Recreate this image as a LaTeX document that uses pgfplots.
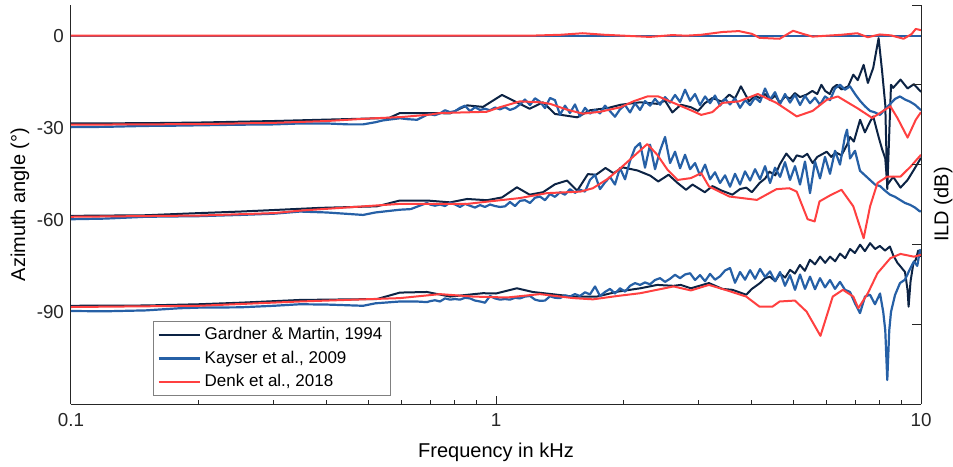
\documentclass[border=0pt]{standalone}
\usepackage{fontspec}
\setmainfont{Liberation Sans}
\usepackage{pgfplots}
\pgfplotsset{compat=1.18}
\definecolor{gmcol}{RGB}{12,35,68}
\definecolor{kacol}{RGB}{38,96,166}
\definecolor{decol}{RGB}{255,64,64}
\definecolor{axcol}{RGB}{38,38,38}

\begin{document}
\begin{tikzpicture}
\path[use as bounding box] (-35.5pt,-31pt) rectangle (441pt,202pt);
\begin{axis}[
  at={(0,0)}, anchor=south west,
  scale only axis, width=425pt, height=199.5pt,
  xmode=log, xmin=0.1, xmax=10, ymin=-120, ymax=10,
  axis x line=bottom, axis y line=left,
  axis line style={-, axcol, line width=0.5pt},
  xtick={0.1,1,10}, xticklabels={0.1,1,10},
  ytick={-90,-60,-30,0}, yticklabels={-90,-60,-30,0},
  tick align=inside, major tick length=4pt, minor tick length=2.2pt,
  tick style={axcol, line width=0.5pt},
  ticklabel style={font=\fontsize{9.4}{11}\selectfont, text=axcol},
  xticklabel style={yshift=-1pt},
  xlabel={Frequency in kHz}, ylabel={Azimuth angle (°)},
  label style={font=\fontsize{10.3}{12}\selectfont, text=axcol},
  every axis x label/.style={at={(axis description cs:0.5,-0.12)}, anchor=center},
  every axis y label/.style={at={(axis description cs:-0.06,0.5)}, anchor=center, rotate=90},
  legend style={at={(axis description cs:0.0965,0.02)}, anchor=south west,
    draw=gray, line width=0.5pt, fill=white,
    font=\fontsize{8.5}{10}\selectfont, text=black,
    inner xsep=2pt, inner ysep=1pt, row sep=0pt},
  legend cell align=left,
  legend image code/.code={\draw[#1] (0pt,0pt) -- (20.5pt,0pt);},
  every axis plot/.append style={line join=round},
]
% ---- Gardner & Martin, 1994 ----
\addplot[gmcol, line width=1pt] coordinates {(0.1,0) (10,0)};
\addlegendentry{Gardner \& Martin, 1994}
\addplot[gmcol, line width=1pt, forget plot] coordinates {
(0.1,-28.6) (0.15,-28.5) (0.2,-28.3) (0.3,-27.8) (0.3854,-27.4) (0.5,-27.0) (0.56,-26.8)
(0.5942,-25.2) (0.69,-25.2) (0.78,-25.3) (0.855,-22.7) (0.932,-23.2) (1.033,-19.3)
(1.2,-23.8) (1.29,-21.7) (1.377,-25.5) (1.553,-26.6) (1.664,-24.3) (1.829,-23.6)
(1.965,-22.5) (2.185,-21.7) (2.396,-22.2) (2.5,-21.2) (2.6,-25.0) (2.722,-22.5)
(2.875,-23.3) (2.99,-24.5) (3.1,-22.0) (3.23,-20.3) (3.4,-21.5) (3.54,-19.2) (3.65,-20.5)
(3.77,-16.5) (3.94,-21.4) (4.07,-19.5) (4.17,-20.3) (4.3,-19.0) (4.41,-21.0) (4.54,-19.5)
(4.65,-21.9) (4.79,-19.8) (4.92,-20.5) (5.05,-18.7) (5.19,-20.0) (5.38,-19.2) (5.55,-18.0)
(5.7,-19.0) (5.83,-16.0) (5.95,-18.0) (6.1,-19.0) (6.2,-17.0) (6.34,-16.0) (6.5,-17.5)
(6.74,-16.5) (6.93,-12.7) (7.1,-14.5) (7.33,-9.5) (7.5,-15.4) (7.72,-10.5) (7.95,-0.8)
(8.1,-11.6) (8.24,-22.5) (8.33,-50.0) (8.5,-16.0) (8.6,-17.0) (8.95,-14.3) (9.3,-17.2)
(9.62,-15.8) (10,-18.3)};
\addplot[gmcol, line width=1pt, forget plot] coordinates {
(0.1,-58.7) (0.15,-58.5) (0.2,-57.8) (0.25,-57.3) (0.3,-56.8) (0.3854,-56.1) (0.5248,-55.6)
(0.5942,-53.7) (0.688,-53.7) (0.78,-54.3) (0.855,-53.2) (0.952,-53.6) (1.033,-52.7)
(1.12,-49.4) (1.2,-51.8) (1.29,-51.0) (1.377,-48.4) (1.47,-47.2) (1.553,-50.5)
(1.645,-45.1) (1.72,-45.3) (1.81,-43.1) (1.89,-44.8) (1.987,-42.9) (2.15,-43.9)
(2.307,-45.6) (2.409,-47.5) (2.547,-45.3) (2.675,-48.0) (2.8,-50.2) (2.9,-48.5)
(3.1,-51.0) (3.23,-49.0) (3.4,-50.5) (3.6,-51.8) (3.75,-50.0) (3.88,-49.5) (4.0,-51.0)
(4.17,-48.0) (4.3,-46.5) (4.4,-44.3) (4.54,-45.5) (4.65,-42.0) (4.82,-38.4) (5.0,-41.0)
(5.1,-39.0) (5.27,-39.5) (5.4,-38.5) (5.56,-41.5) (5.7,-39.5) (6.0,-37.8) (6.15,-39.5)
(6.3,-38.0) (6.5,-39.0) (6.7,-35.5) (6.81,-33.0) (6.95,-34.5) (7.19,-27.4) (7.38,-31.5)
(7.59,-28.0) (7.72,-26.3) (7.95,-33.0) (8.1,-37.0) (8.24,-40.0) (8.33,-48.6) (8.6,-46.0)
(8.8,-48.0) (8.95,-49.5) (9.3,-47.0) (9.62,-43.7) (10,-39.8)};
\addplot[gmcol, line width=1pt, forget plot] coordinates {
(0.1,-88.0) (0.15,-87.9) (0.2,-87.5) (0.25,-87.0) (0.3458,-86.1) (0.5248,-85.8)
(0.5942,-83.7) (0.688,-83.5) (0.78,-85.0) (0.932,-83.9) (1.0,-84.0) (1.12,-82.3)
(1.22,-83.5) (1.392,-84.4) (1.52,-85.0) (1.728,-85.0) (1.932,-83.4) (2.185,-82.3)
(2.396,-81.2) (2.617,-81.5) (2.722,-81.2) (2.875,-82.3) (3.17,-80.6) (3.41,-82.5)
(3.6,-82.8) (3.88,-84.4) (4.0,-82.5) (4.18,-80.6) (4.3,-79.0) (4.41,-78.5) (4.54,-80.0)
(4.66,-77.5) (4.79,-78.8) (4.92,-76.3) (5.05,-77.5) (5.19,-74.7) (5.33,-76.6) (5.48,-73.0)
(5.63,-74.5) (5.79,-72.0) (5.95,-74.0) (6.11,-72.0) (6.28,-73.5) (6.45,-71.0) (6.63,-72.5)
(6.81,-69.5) (6.99,-70.8) (7.19,-68.1) (7.38,-70.2) (7.59,-67.6) (7.8,-69.5) (8.0,-68.5)
(8.23,-70.0) (8.45,-68.7) (8.6,-71.5) (8.8,-74.0) (8.95,-75.2) (9.17,-77.0) (9.3,-83.0)
(9.35,-88.3) (9.45,-80.0) (9.6,-74.0) (9.72,-73.0) (9.85,-70.0) (10,-72.0)};
% ---- Kayser et al., 2009 ----
\addplot[kacol, line width=1.1pt] coordinates {(0.1,0) (10,0)};
\addlegendentry{Kayser et al., 2009}
\addplot[kacol, line width=1.1pt, forget plot] coordinates {
(0.1,-29.8) (0.12,-29.7) (0.15,-29.4) (0.18,-29.3) (0.2,-29.2) (0.25,-29.0) (0.3,-28.9)
(0.3458,-28.6) (0.4,-28.6) (0.45,-28.9) (0.4865,-28.9) (0.52,-28.2) (0.542,-27.6)
(0.5942,-26.9) (0.62,-27.2) (0.652,-27.4) (0.688,-25.8)
(0.6994,-25.6) (0.7186,-25.9) (0.7384,-25.3) (0.7586,-24.3) (0.7795,-24.9) (0.8009,-24.6)
(0.8229,-23.5) (0.8455,-22.8) (0.8687,-24.6) (0.8925,-23.3) (0.9170,-24.2) (0.9422,-23.8)
(0.9681,-24.3) (0.9946,-23.4) (1.0219,-24.0) (1.0500,-23.3) (1.0788,-24.2) (1.1084,-23.6)
(1.1388,-22.4) (1.1701,-20.8) (1.2023,-22.6) (1.2353,-20.4) (1.2692,-21.5) (1.3040,-23.6)
(1.3399,-20.3) (1.3767,-21.0) (1.415,-25.8) (1.453,-22.8) (1.493,-25.2) (1.534,-22.4)
(1.576,-26.3) (1.620,-23.5) (1.664,-25.4) (1.710,-24.2) (1.757,-25.3) (1.805,-22.8)
(1.855,-24.6) (1.905,-26.4) (1.958,-24.0) (2.012,-22.6) (2.067,-25.0) (2.124,-22.0)
(2.182,-24.2) (2.242,-21.3) (2.304,-22.8) (2.367,-20.6) (2.432,-22.5) (2.499,-20.0)
(2.568,-21.8) (2.638,-19.3) (2.711,-21.6) (2.785,-17.6) (2.862,-21.2) (2.940,-19.0)
(3.020,-22.6) (3.104,-19.8) (3.189,-22.0) (3.276,-19.5) (3.366,-22.8) (3.459,-20.6)
(3.554,-22.4) (3.651,-20.4) (3.752,-23.5) (3.855,-21.0) (3.961,-22.6) (4.070,-20.2)
(4.181,-21.6) (4.296,-17.2) (4.414,-20.8) (4.535,-18.4) (4.660,-22.3) (4.786,-19.0)
(4.918,-21.8) (5.053,-19.2) (5.192,-22.6) (5.334,-19.6) (5.481,-22.0) (5.631,-20.2)
(5.786,-22.5) (5.945,-19.8) (6.108,-21.0) (6.276,-17.2) (6.448,-16.0) (6.625,-17.6)
(6.807,-16.5) (6.994,-19.0) (7.186,-21.2) (7.384,-23.0) (7.586,-24.5) (7.795,-25.0)
(8.009,-25.8) (8.229,-24.0) (8.455,-22.3) (8.687,-20.6) (8.925,-19.8) (9.170,-20.8)
(9.422,-21.5) (9.681,-22.5) (9.946,-24.0) (10,-24.2)};
\addplot[kacol, line width=1.1pt, forget plot] coordinates {
(0.1,-59.8) (0.12,-59.6) (0.15,-59.0) (0.2,-58.8) (0.25,-58.4) (0.3,-58.0) (0.3458,-57.3)
(0.4,-57.6) (0.4865,-58.4) (0.52,-57.6) (0.5942,-56.7) (0.63,-56.5) (0.688,-54.5)
(0.6994,-55.0) (0.7186,-55.4) (0.7384,-55.0) (0.7586,-55.5) (0.7795,-54.4) (0.8009,-55.0)
(0.8229,-55.8) (0.8455,-54.8) (0.8687,-55.4) (0.8925,-56.0) (0.9170,-55.2) (0.9422,-55.8)
(0.9681,-55.0) (0.9946,-55.5) (1.0219,-55.8) (1.0500,-55.6) (1.0788,-54.2) (1.1084,-55.5)
(1.1388,-53.8) (1.1701,-53.6) (1.2023,-54.5) (1.2353,-52.8) (1.2692,-52.4) (1.3040,-53.6)
(1.3399,-51.6) (1.3767,-52.5) (1.415,-51.0) (1.453,-51.8) (1.493,-50.0) (1.534,-51.2)
(1.576,-50.2) (1.620,-50.8) (1.664,-47.0) (1.710,-45.3) (1.757,-50.0) (1.805,-47.8)
(1.855,-46.0) (1.905,-48.5) (1.958,-43.1) (2.012,-46.8) (2.067,-40.8) (2.124,-36.5)
(2.182,-35.0) (2.242,-43.0) (2.304,-35.5) (2.367,-43.5) (2.432,-37.5) (2.499,-33.0)
(2.568,-41.5) (2.638,-37.8) (2.711,-43.2) (2.785,-38.8) (2.862,-43.5) (2.940,-41.5)
(3.020,-45.5) (3.104,-42.0) (3.189,-46.8) (3.276,-44.5) (3.366,-48.0) (3.459,-45.5)
(3.554,-49.2) (3.651,-45.0) (3.752,-48.5) (3.855,-44.2) (3.961,-47.2) (4.070,-43.5)
(4.181,-46.8) (4.296,-42.5) (4.414,-48.0) (4.535,-43.0) (4.660,-46.0) (4.786,-41.2)
(4.918,-47.0) (5.053,-42.5) (5.192,-48.5) (5.334,-41.0) (5.481,-51.3) (5.631,-41.0)
(5.786,-46.5) (5.945,-39.5) (6.108,-45.0) (6.276,-37.5) (6.448,-42.0) (6.625,-32.8)
(6.7,-30.6) (6.807,-40.0) (6.994,-37.5) (7.186,-44.0) (7.384,-45.5) (7.586,-47.0)
(7.795,-48.5) (8.009,-49.0) (8.229,-50.5) (8.455,-51.8) (8.687,-52.5) (8.925,-53.5)
(9.170,-54.5) (9.422,-55.1) (9.681,-56.0) (9.946,-57.3) (10,-57.0)};
\addplot[kacol, line width=1.1pt, forget plot] coordinates {
(0.1,-89.7) (0.12,-89.8) (0.15,-89.5) (0.18,-88.8) (0.2,-88.6) (0.25,-88.5) (0.3,-88.0)
(0.3458,-87.5) (0.4,-87.6) (0.4865,-88.0) (0.52,-87.2) (0.5942,-86.6) (0.65,-86.6)
(0.688,-86.8) (0.6994,-86.5) (0.7186,-86.2) (0.7384,-86.6) (0.7586,-85.6) (0.7795,-86.0)
(0.8009,-85.8) (0.8229,-86.0) (0.8455,-85.4) (0.8687,-85.6) (0.8925,-86.3) (0.9170,-86.6)
(0.9422,-87.0) (0.9681,-84.8) (0.9946,-85.6) (1.0219,-86.0) (1.0500,-85.8) (1.0788,-86.0)
(1.1084,-85.4) (1.1388,-85.6) (1.1701,-85.0) (1.2023,-84.8) (1.2353,-86.0) (1.2692,-86.4)
(1.3040,-86.3) (1.3399,-84.9) (1.3767,-85.4) (1.415,-85.5) (1.453,-84.6) (1.493,-85.0)
(1.534,-84.2) (1.576,-84.8) (1.620,-83.6) (1.664,-84.3) (1.710,-81.7) (1.757,-84.8)
(1.805,-83.5) (1.855,-82.5) (1.905,-84.0) (1.958,-82.3) (2.012,-83.4) (2.067,-81.5)
(2.124,-80.6) (2.182,-81.2) (2.242,-80.4) (2.304,-81.0) (2.367,-79.6) (2.432,-79.0)
(2.499,-80.2) (2.568,-79.2) (2.638,-77.9) (2.711,-79.0) (2.785,-77.8) (2.862,-77.4)
(2.940,-79.6) (3.020,-78.0) (3.104,-80.0) (3.189,-77.6) (3.276,-79.5) (3.366,-78.4)
(3.459,-76.5) (3.554,-75.7) (3.651,-80.5) (3.752,-77.0) (3.855,-79.5) (3.961,-76.4)
(4.070,-79.2) (4.181,-76.0) (4.296,-78.6) (4.414,-76.8) (4.535,-80.0) (4.660,-77.0)
(4.786,-81.5) (4.918,-78.0) (5.053,-82.8) (5.192,-77.8) (5.334,-82.5) (5.481,-78.5)
(5.631,-82.6) (5.786,-79.0) (5.945,-82.0) (6.108,-79.6) (6.276,-82.5) (6.448,-80.2)
(6.625,-82.8) (6.807,-83.5) (6.994,-87.2) (7.186,-90.4) (7.384,-85.0) (7.586,-84.4)
(7.795,-87.5) (8.009,-84.0) (8.15,-90.0) (8.24,-96.0) (8.33,-112.2) (8.42,-96.0)
(8.5,-90.0) (8.687,-84.5) (8.925,-80.6) (9.170,-79.5) (9.422,-76.0) (9.62,-73.6)
(9.8,-75.0) (9.946,-69.8) (10,-71.0)};
% ---- Denk et al., 2018 ----
\addplot[decol, line width=1pt] coordinates {
(0.1,0) (1.2,0) (1.42,0.3) (1.6,0.8) (1.8,0.3) (2.0,0) (2.3,-0.4) (2.6,0.2) (2.8,0)
(3.04,0.3) (3.41,1.2) (3.73,1.5) (4.0,0.6) (4.17,-0.7) (4.47,-0.9) (4.65,-1.0) (5.0,1.6)
(5.3,0.5) (5.56,-0.3) (6.0,0) (6.5,0.3) (7.08,0.8) (7.5,-0.5) (8.0,0.4) (8.5,0.1)
(9.1,-1.0) (9.5,0.5) (9.72,2.2) (10,1.8)};
\addlegendentry{Denk et al., 2018}
\addplot[decol, line width=1pt, forget plot] coordinates {
(0.1,-29.0) (0.2,-28.8) (0.3,-28.4) (0.4,-27.8) (0.5,-27.0) (0.6,-26.5) (0.7,-25.7)
(0.738,-25.2) (0.95,-24.8) (1.022,-23.3) (1.138,-21.4) (1.269,-21.7) (1.34,-22.2)
(1.47,-24.1) (1.6,-25.4) (1.757,-24.8) (1.965,-23.3) (2.104,-21.4) (2.27,-19.8)
(2.41,-19.8) (2.617,-21.9) (2.875,-24.3) (3.04,-25.8) (3.23,-24.9) (3.41,-21.9)
(3.73,-21.4) (4.13,-19.0) (4.57,-21.9) (5.1,-26.3) (5.56,-24.5) (6.0,-20.9) (6.37,-19.8)
(7.08,-23.6) (7.68,-26.8) (8.47,-23.0) (8.8,-26.8) (9.3,-33.2) (9.72,-27.4) (10,-24.9)};
\addplot[decol, line width=1pt, forget plot] coordinates {
(0.1,-59.0) (0.2,-58.6) (0.3,-57.8) (0.3458,-57.0) (0.5942,-54.8) (0.855,-54.8)
(1.138,-52.9) (1.318,-51.3) (1.58,-50.8) (1.69,-49.7) (1.83,-46.7) (1.965,-43.1)
(2.104,-39.4) (2.27,-35.3) (2.396,-38.8) (2.533,-43.7) (2.675,-47.0) (2.875,-46.4)
(3.04,-44.8) (3.17,-49.1) (3.54,-52.4) (4.11,-53.5) (4.57,-50.0) (4.9,-49.7) (5.1,-50.8)
(5.41,-59.8) (5.62,-60.5) (5.77,-54.0) (6.1,-52.1) (6.5,-50.2) (6.93,-55.6) (7.33,-66.0)
(7.59,-55.6) (7.9,-48.0) (8.33,-45.9) (8.95,-45.9) (9.46,-42.6) (10,-38.8)};
\addplot[decol, line width=1pt, forget plot] coordinates {
(0.1,-88.4) (0.2,-88.0) (0.3458,-86.6) (0.5942,-85.5) (0.738,-84.2) (0.883,-85.0)
(1.062,-85.3) (1.269,-84.2) (1.52,-85.5) (1.691,-85.9) (1.932,-84.8) (2.185,-83.9)
(2.617,-81.7) (2.875,-83.0) (3.17,-81.2) (3.5,-83.0) (3.88,-85.0) (4.17,-88.3)
(4.47,-88.3) (4.65,-86.6) (5.05,-86.3) (5.38,-89.9) (5.8,-97.8) (6.2,-85.0) (6.55,-82.8)
(6.93,-85.0) (7.12,-88.8) (7.5,-83.9) (7.9,-77.4) (8.47,-72.5) (8.95,-71.1) (9.62,-72.0)
(10,-71.4)};
\end{axis}
% ILD scale on the right-hand side
\begin{axis}[
  at={(0,0)}, anchor=south west,
  scale only axis, width=425pt, height=199.5pt,
  xmode=log, xmin=0.1, xmax=10, ymin=0, ymax=50,
  axis x line=none, axis y line=right,
  axis line style={-, axcol, line width=0.5pt},
  ytick={0,10,20,30,40,50}, yticklabels={\mbox{},\mbox{},\mbox{},\mbox{},\mbox{},\mbox{}},
  tick align=inside, major tick length=4.5pt,
  tick style={axcol, line width=0.5pt},
  ylabel={ILD (dB)},
  label style={font=\fontsize{10.3}{12}\selectfont, text=axcol},
  every axis y label/.style={at={(axis description cs:1.026,0.5)}, anchor=center, rotate=90},
]
\end{axis}
\end{tikzpicture}
\end{document}
